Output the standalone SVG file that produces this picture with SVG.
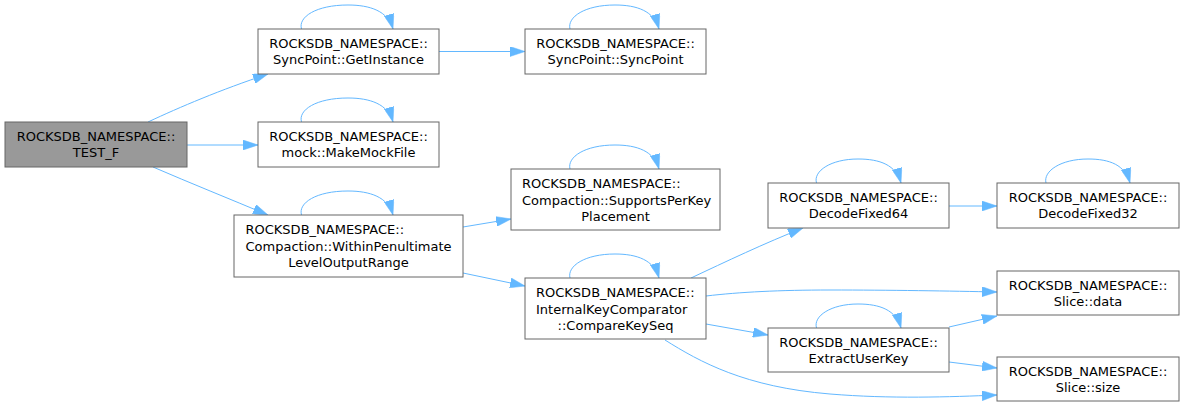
<svg xmlns="http://www.w3.org/2000/svg" width="1184" height="407" viewBox="0 0 1184 407">
<style>
.n{fill:#ffffff;stroke:#666666;stroke-width:1}
.r{fill:#999999;stroke:#666666;stroke-width:1}
text{font-family:"DejaVu Sans",sans-serif;font-size:13px;fill:#000000}
.c{text-anchor:middle}
.l{text-anchor:start}
.e{fill:none;stroke:#63b8ff;stroke-width:1}
</style>
<defs>
<marker id="a" viewBox="0 0 15 10" refX="15" refY="5" markerWidth="15" markerHeight="10" markerUnits="userSpaceOnUse" orient="auto">
<path d="M0,0 L15,5 L0,10 z" fill="#63b8ff" stroke="#63b8ff" stroke-width="0.5"/>
</marker>
</defs>
<g id="edges">
<path class="e" marker-end="url(#a)" d="M148,122 C180,107 220,90 268,74"/>
<path class="e" marker-end="url(#a)" d="M187,145 L258,145"/>
<path class="e" marker-end="url(#a)" d="M153,167 C190,183 230,199 268,215"/>
<path class="e" marker-end="url(#a)" d="M439,51.5 L525,51.5"/>
<path class="e" marker-end="url(#a)" d="M463,227 L511,219"/>
<path class="e" marker-end="url(#a)" d="M463,273 L525,286"/>
<path class="e" marker-end="url(#a)" d="M691,278 C725,262 765,243 803,228"/>
<path class="e" marker-end="url(#a)" d="M706,296 C740,292 780,290 830,290 C890,290 950,291 997,292"/>
<path class="e" marker-end="url(#a)" d="M706,324 L768,335"/>
<path class="e" marker-end="url(#a)" d="M665,340 C700,362 745,387 830,394 C890,399 950,397 997,395"/>
<path class="e" marker-end="url(#a)" d="M949,206 L997,206"/>
<path class="e" marker-end="url(#a)" d="M949,327 L997,316"/>
<path class="e" marker-end="url(#a)" d="M949,362 L997,368"/>
<path class="e" marker-end="url(#a)" d="M301.5,29 C298,17 316,5 348,5 C370,5 388,11 393,29"/>
<path class="e" marker-end="url(#a)" d="M301.5,122 C298,110 316,98 348,98 C370,98 388,104 393,122"/>
<path class="e" marker-end="url(#a)" d="M570,29 C567,17 585,5 615,5 C637,5 654,11 659,29"/>
<path class="e" marker-end="url(#a)" d="M301.5,215 C298,203 316,191 348,191 C370,191 388,197 393,215"/>
<path class="e" marker-end="url(#a)" d="M570,169 C567,157 585,145 615,145 C637,145 654,151 659,169"/>
<path class="e" marker-end="url(#a)" d="M570,278 C567,266 585,254 615,254 C637,254 654,260 659,278"/>
<path class="e" marker-end="url(#a)" d="M816.5,183 C813,171 831,159 858,159 C880,159 896,165 901,183"/>
<path class="e" marker-end="url(#a)" d="M1046,183 C1043,171 1061,159 1088,159 C1110,159 1125,165 1130,183"/>
<path class="e" marker-end="url(#a)" d="M816.5,328 C813,316 831,304 858,304 C880,304 896,310 901,328"/>
</g>
<g id="TEST_F">
<rect class="r" x="5" y="122" width="182" height="45"/>
<text class="c" x="96" y="141">ROCKSDB_NAMESPACE::</text>
<text class="c" x="96" y="157">TEST_F</text>
</g>
<g id="GetInstance">
<rect class="n" x="258" y="29" width="181" height="45"/>
<text class="c" x="348.5" y="48">ROCKSDB_NAMESPACE::</text>
<text class="c" x="348.5" y="64">SyncPoint::GetInstance</text>
</g>
<g id="MakeMockFile">
<rect class="n" x="258" y="122" width="181" height="45"/>
<text class="c" x="348.5" y="141">ROCKSDB_NAMESPACE::</text>
<text class="c" x="348.5" y="157">mock::MakeMockFile</text>
</g>
<g id="SyncPoint">
<rect class="n" x="525" y="29" width="181" height="45"/>
<text class="c" x="615.5" y="48">ROCKSDB_NAMESPACE::</text>
<text class="c" x="615.5" y="64">SyncPoint::SyncPoint</text>
</g>
<g id="WithinPenultimate">
<rect class="n" x="234" y="215" width="229" height="62"/>
<text class="l" x="245.5" y="234">ROCKSDB_NAMESPACE::</text>
<text class="l" x="245.5" y="250.5">Compaction::WithinPenultimate</text>
<text class="c" x="348.5" y="267">LevelOutputRange</text>
</g>
<g id="SupportsPerKey">
<rect class="n" x="511" y="169" width="209" height="61"/>
<text class="l" x="522" y="188">ROCKSDB_NAMESPACE::</text>
<text class="l" x="522" y="204.5">Compaction::SupportsPerKey</text>
<text class="c" x="615.5" y="221">Placement</text>
</g>
<g id="CompareKeySeq">
<rect class="n" x="525" y="278" width="181" height="61"/>
<text class="l" x="536" y="297">ROCKSDB_NAMESPACE::</text>
<text class="l" x="536" y="313.5">InternalKeyComparator</text>
<text class="c" x="615.5" y="330">::CompareKeySeq</text>
</g>
<g id="DecodeFixed64">
<rect class="n" x="768" y="183" width="181" height="45"/>
<text class="c" x="858.5" y="202">ROCKSDB_NAMESPACE::</text>
<text class="c" x="858.5" y="218">DecodeFixed64</text>
</g>
<g id="DecodeFixed32">
<rect class="n" x="997" y="183" width="182" height="45"/>
<text class="c" x="1088" y="202">ROCKSDB_NAMESPACE::</text>
<text class="c" x="1088" y="218">DecodeFixed32</text>
</g>
<g id="SliceData">
<rect class="n" x="997" y="271" width="182" height="44"/>
<text class="c" x="1088" y="290">ROCKSDB_NAMESPACE::</text>
<text class="c" x="1088" y="306">Slice::data</text>
</g>
<g id="ExtractUserKey">
<rect class="n" x="768" y="328" width="181" height="44"/>
<text class="c" x="858.5" y="347">ROCKSDB_NAMESPACE::</text>
<text class="c" x="858.5" y="363">ExtractUserKey</text>
</g>
<g id="SliceSize">
<rect class="n" x="997" y="357" width="182" height="44"/>
<text class="c" x="1088" y="376">ROCKSDB_NAMESPACE::</text>
<text class="c" x="1088" y="392">Slice::size</text>
</g>
</svg>
